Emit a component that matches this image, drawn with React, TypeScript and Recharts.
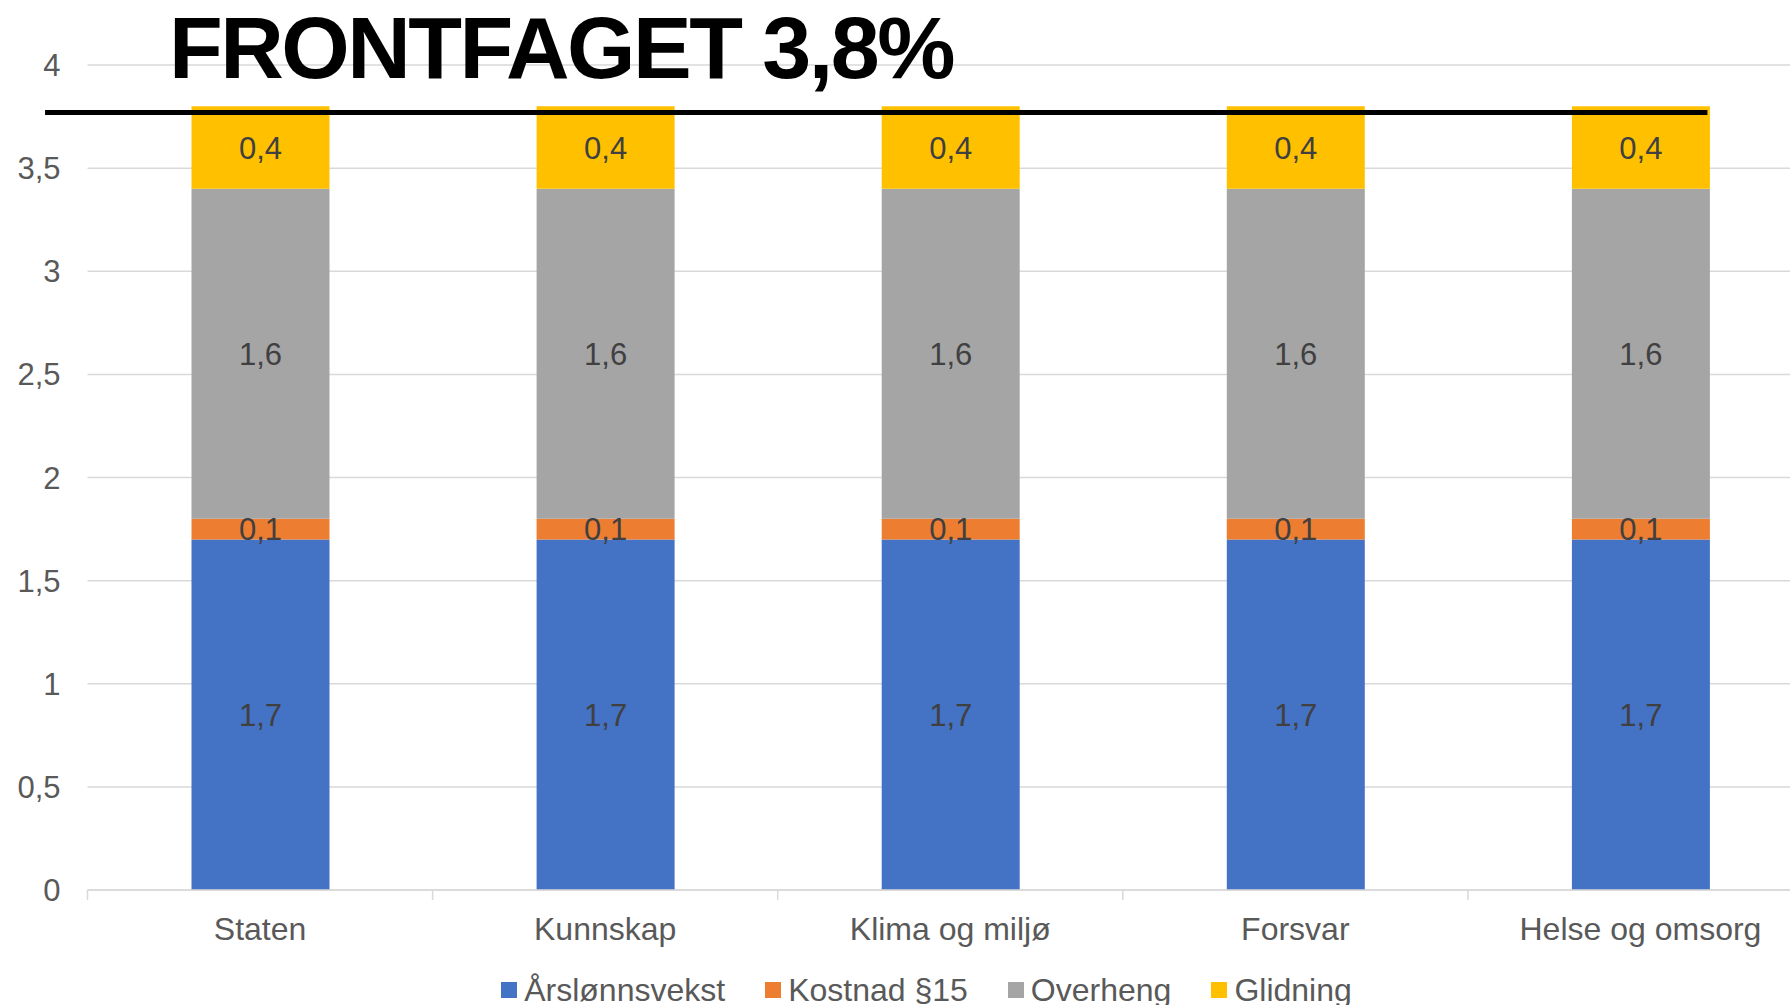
import React from 'react';
import {
  BarChart, Bar, XAxis, YAxis, CartesianGrid, Legend, LabelList, ReferenceLine,
} from 'recharts';

// Categories and stacked series (percent points)
const categories = ['Staten', 'Kunnskap', 'Klima og miljø', 'Forsvar', 'Helse og omsorg'];
const arslonnsvekst = [1.7, 1.7, 1.7, 1.7, 1.7];
const kostnad15 = [0.1, 0.1, 0.1, 0.1, 0.1];
const overheng = [1.6, 1.6, 1.6, 1.6, 1.6];
const glidning = [0.4, 0.4, 0.4, 0.4, 0.4];

const seriesNames = ['Årslønnsvekst', 'Kostnad §15', 'Overheng', 'Glidning'];

const yTicks = [0, 0.5, 1, 1.5, 2, 2.5, 3, 3.5, 4];
// x is numeric: category i sits at i + 0.5, boundaries at integers
const xTicks = [0, 0.5, 1, 1.5, 2, 2.5, 3, 3.5, 4, 4.5, 5];

// frontfag line
const frontfagLevel = 3.77;
const frontfagFrom = -0.123;
const frontfagTo = 4.694;

const COLORS = { blue: '#4472C4', orange: '#ED7D31', gray: '#A5A5A5', yellow: '#FFC000' };
const FONT = '"Liberation Sans", Arial, sans-serif';

const data = categories.map((name, i) => ({
  name,
  pos: i + 0.5,
  arslonnsvekst: arslonnsvekst[i],
  kostnad15: kostnad15[i],
  overheng: overheng[i],
  glidning: glidning[i],
}));

const fmt = (v: any) => String(v).replace('.', ',');

const labelStyle = { fill: '#404040', fontSize: 31, fontFamily: FONT };

// boundary tick marks at integers, category names at the half steps
const CategoryTick = ({ x, y, payload }: any) => {
  const v = payload.value;
  if (Number.isInteger(v)) {
    return <line x1={x} x2={x} y1={y} y2={y + 10} stroke="#d9d9d9" strokeWidth={1.5} />;
  }
  return (
    <text x={x} y={y + 27} dy="0.71em" textAnchor="middle" fill="#595959" fontSize={32} fontFamily={FONT}>
      {categories[Math.floor(v)]}
    </text>
  );
};

const LegendContent = ({ payload }: any) => {
  const items = [...(payload || [])].sort(
    (a: any, b: any) => seriesNames.indexOf(a.value) - seriesNames.indexOf(b.value)
  );
  return (
    <div style={{
      display: 'flex', justifyContent: 'center', paddingLeft: 40, paddingTop: 5,
      fontSize: 32, lineHeight: '40px', color: '#595959', fontFamily: FONT,
    }}>
      {items.map((entry: any, i: number) => (
        <div key={i} style={{ display: 'flex', alignItems: 'center', marginRight: i < items.length - 1 ? 40 : 0 }}>
          <span style={{ width: 16, height: 16, background: entry.color, marginRight: 7, display: 'inline-block' }} />
          <span>{entry.value}</span>
        </div>
      ))}
    </div>
  );
};

export default function App() {
  return (
    <div style={{ position: 'relative', width: 1790, height: 1005, overflow: 'hidden', background: '#fff', fontFamily: FONT }}>
      <style>{'body{margin:0}'}</style>
      <BarChart
        width={1813}
        height={1005}
        data={data}
        margin={{ top: 65, right: 0, bottom: 0, left: 0 }}
        barSize={138}
      >
        <CartesianGrid vertical={false} stroke="#d9d9d9" strokeWidth={1.5} />
        <XAxis
          type="number"
          dataKey="pos"
          domain={[0, 5]}
          allowDataOverflow
          ticks={xTicks}
          interval={0}
          height={75}
          axisLine={{ stroke: '#d9d9d9', strokeWidth: 1.5 }}
          tickLine={false}
          tickSize={0}
          tickMargin={0}
          tick={<CategoryTick />}
        />
        <YAxis
          width={87.5}
          domain={[0, 4]}
          ticks={yTicks}
          tickFormatter={fmt}
          axisLine={false}
          tickLine={false}
          tickSize={0}
          tickMargin={27}
          tick={{ fill: '#595959', fontSize: 31, fontFamily: FONT }}
        />
        <Legend verticalAlign="bottom" height={40} content={<LegendContent />} />
        <Bar dataKey="arslonnsvekst" name={seriesNames[0]} stackId="a" fill={COLORS.blue} isAnimationActive={false}>
          <LabelList dataKey="arslonnsvekst" position="center" formatter={fmt} style={labelStyle} />
        </Bar>
        <Bar dataKey="kostnad15" name={seriesNames[1]} stackId="a" fill={COLORS.orange} isAnimationActive={false}>
          <LabelList dataKey="kostnad15" position="center" formatter={fmt} style={labelStyle} />
        </Bar>
        <Bar dataKey="overheng" name={seriesNames[2]} stackId="a" fill={COLORS.gray} isAnimationActive={false}>
          <LabelList dataKey="overheng" position="center" formatter={fmt} style={labelStyle} />
        </Bar>
        <Bar dataKey="glidning" name={seriesNames[3]} stackId="a" fill={COLORS.yellow} isAnimationActive={false}>
          <LabelList dataKey="glidning" position="center" formatter={fmt} style={labelStyle} />
        </Bar>
        <ReferenceLine
          segment={[{ x: frontfagFrom, y: frontfagLevel }, { x: frontfagTo, y: frontfagLevel }]}
          stroke="#000"
          strokeWidth={5}
          ifOverflow="visible"
        />
      </BarChart>
      <div style={{
        position: 'absolute', left: 169, top: 3.5, fontSize: 88, lineHeight: '88px',
        fontWeight: 'bold', letterSpacing: -2.5, color: '#000', whiteSpace: 'nowrap',
      }}>
        FRONTFAGET 3,8%
      </div>
    </div>
  );
}
